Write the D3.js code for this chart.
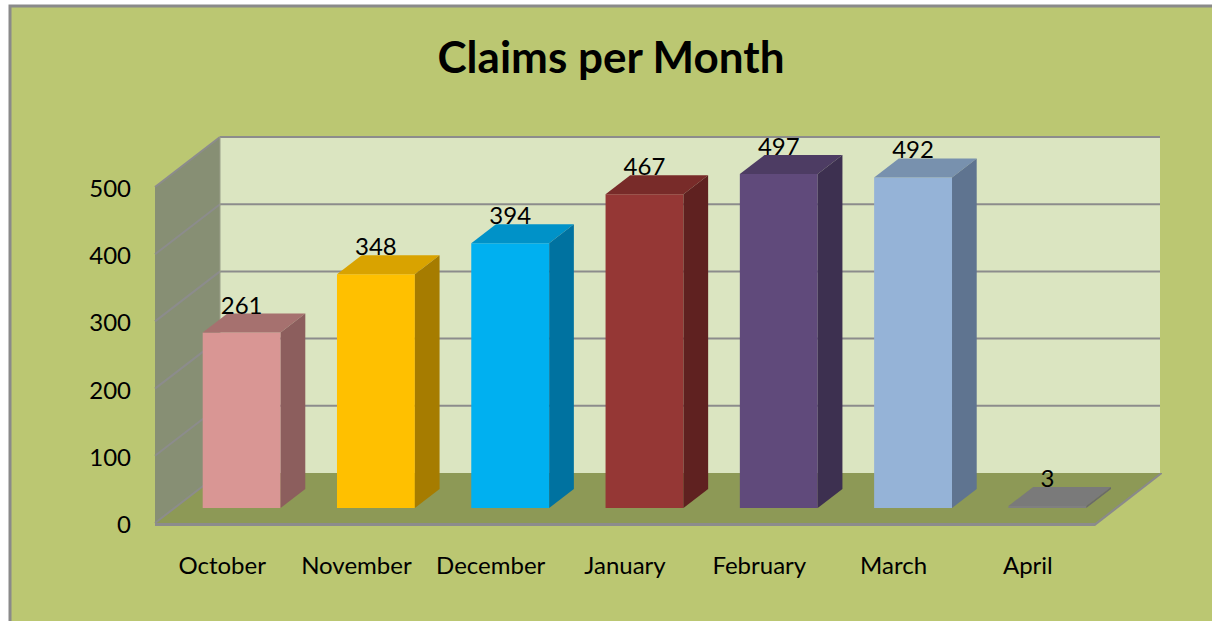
<!DOCTYPE html>
<html>
<head>
<meta charset="utf-8">
<script src="https://cdn.jsdelivr.net/npm/d3@7"></script>
<style>
  html, body { margin: 0; padding: 0; background: #ffffff; }
  svg { display: block; }
  text { font-family: Lato, "Open Sans", sans-serif; fill: #000; }
</style>
</head>
<body>
<div id="okvir"></div>
<script>
// podaci
var months = ["October", "November", "December", "January", "February", "March", "April"];
var claims = [261, 348, 394, 467, 497, 492, 3];
var yTicks = [0, 100, 200, 300, 400, 500];
var frontColors = ["#d99694", "#ffc000", "#00b0f0", "#953735", "#604a7b", "#95b3d7", "#808080"];
var topColors   = ["#a6716f", "#d9a300", "#0092c8", "#782b29", "#4d3c63", "#7891ae", "#7a7a7a"];
var sideColors  = ["#8c5e5d", "#a67c00", "#0072a0", "#5f2120", "#3d3050", "#5f7490", "#6a6a6a"];

var width = 1212, height = 621;
var plot = { left: 155, right: 1095, bottom: 523, top: 187 };
var depth = { dx: 65, dy: -50 };       // pomak od prednje do straznje ravnine
var barFront = 0.3, barBack = 0.68;     // dubina stupaca (udio)

var svg = d3.select("#okvir")
    .append("svg")
    .attr("width", width)
    .attr("height", height);

// pozadina i okvir
svg.append("rect")
    .attr("x", 0).attr("y", 0).attr("width", width).attr("height", height)
    .attr("fill", "#ffffff");
svg.append("rect")
    .attr("x", 10).attr("y", 6).attr("width", width + 20).attr("height", height + 20)
    .attr("fill", "#bbc772")
    .attr("stroke", "#8a8a8a")
    .attr("stroke-width", 3);

var x = d3.scaleBand()
    .domain(months)
    .range([plot.left, plot.right])
    .paddingInner(0.42)
    .paddingOuter(0.21);

var y = d3.scaleLinear()
    .domain([0, 500])
    .range([plot.bottom, plot.top]);

function P(px, py, d) {
    return [px + d * depth.dx, py + d * depth.dy];
}
function poly(pts) {
    return "M" + pts.map(p => p.join(",")).join("L") + "Z";
}

// straznji zid
svg.append("path")
    .attr("d", poly([P(plot.left, y(500), 1), P(plot.right, y(500), 1), P(plot.right, y(0), 1), P(plot.left, y(0), 1)]))
    .attr("fill", "#dbe5c1");

// lijevi zid
svg.append("path")
    .attr("d", poly([P(plot.left, y(500), 0), P(plot.left, y(500), 1), P(plot.left, y(0), 1), P(plot.left, y(0), 0)]))
    .attr("fill", "#878f74");

// pod (s debljinom)
svg.append("path")
    .attr("d", poly([P(plot.left, y(0) + 3, 0), P(plot.right, y(0) + 3, 0), P(plot.right + 2, y(0) + 1, 1), P(plot.right + 2, y(0), 1), P(plot.right, y(0), 1), P(plot.left, y(0), 0)]))
    .attr("fill", "#8a8a8a");
svg.append("path")
    .attr("d", poly([P(plot.left, y(0), 0), P(plot.right, y(0), 0), P(plot.right, y(0), 1), P(plot.left, y(0), 1)]))
    .attr("fill", "#8d9956");

// mreza
var grid = svg.append("g").attr("stroke", "#8c8c8c").attr("stroke-width", 2).attr("fill", "none");
yTicks.forEach(function (t) {
    if (t > 0) {
        grid.append("line")
            .attr("x1", P(plot.left, y(t), 1)[0]).attr("y1", P(plot.left, y(t), 1)[1])
            .attr("x2", P(plot.right, y(t), 1)[0]).attr("y2", P(plot.right, y(t), 1)[1]);
    }
    grid.append("line")
        .attr("x1", P(plot.left, y(t), 0)[0]).attr("y1", P(plot.left, y(t), 0)[1])
        .attr("x2", P(plot.left, y(t), 1)[0]).attr("y2", P(plot.left, y(t), 1)[1]);
});
grid.append("line")
    .attr("x1", plot.left).attr("y1", y(0) + 1.5)
    .attr("x2", plot.right).attr("y2", y(0) + 1.5)
    .attr("stroke-width", 3);
grid.append("line")
    .attr("x1", P(plot.left, 0, 1)[0]).attr("y1", y(500) + depth.dy)
    .attr("x2", P(plot.left, 0, 1)[0]).attr("y2", y(0) + depth.dy)
    .attr("stroke", "#9a9f8a").attr("stroke-width", 1);

// os y
svg.append("g")
    .selectAll("text")
    .data(yTicks)
    .enter()
    .append("text")
    .attr("x", 131)
    .attr("y", d => y(d) + 10)
    .attr("text-anchor", "end")
    .style("font-size", "24px")
    .text(d => d);

// stupci
var data = months.map((m, i) => ({ month: m, value: claims[i], i: i }));
var bars = svg.append("g").selectAll("g").data(data).enter().append("g");

bars.each(function (d) {
    var g = d3.select(this);
    var x0 = x(d.month), x1 = x(d.month) + x.bandwidth();
    var yt = y(d.value), yb = y(0);
    // prednja strana
    g.append("path")
        .attr("d", poly([P(x0, yt, barFront), P(x1, yt, barFront), P(x1, yb, barFront), P(x0, yb, barFront)]))
        .attr("fill", frontColors[d.i]);
    // gornja strana
    g.append("path")
        .attr("d", poly([P(x0, yt, barFront), P(x0, yt, barBack), P(x1, yt, barBack), P(x1, yt, barFront)]))
        .attr("fill", topColors[d.i]);
    // bocna strana
    g.append("path")
        .attr("d", poly([P(x1, yt, barFront), P(x1, yt, barBack), P(x1, yb, barBack), P(x1, yb, barFront)]))
        .attr("fill", sideColors[d.i]);
    // oznaka vrijednosti
    var lp = P(x0 + x.bandwidth() / 2, yt, barBack);
    g.append("text")
        .attr("x", P(x0 + x.bandwidth() / 2, yt, barFront)[0])
        .attr("y", lp[1])
        .attr("text-anchor", "middle")
        .style("font-size", "24px")
        .text(d.value);
});

// os x
svg.append("g")
    .selectAll("text")
    .data(months)
    .enter()
    .append("text")
    .attr("x", d => x(d) + x.bandwidth() / 2)
    .attr("y", 574)
    .attr("text-anchor", "middle")
    .style("font-size", "24px")
    .text(d => d);

// naslov
svg.append("text")
    .attr("x", 611)
    .attr("y", 73)
    .attr("text-anchor", "middle")
    .style("font-size", "44px")
    .style("font-weight", "bold")
    .text("Claims per Month");
</script>
</body>
</html>
